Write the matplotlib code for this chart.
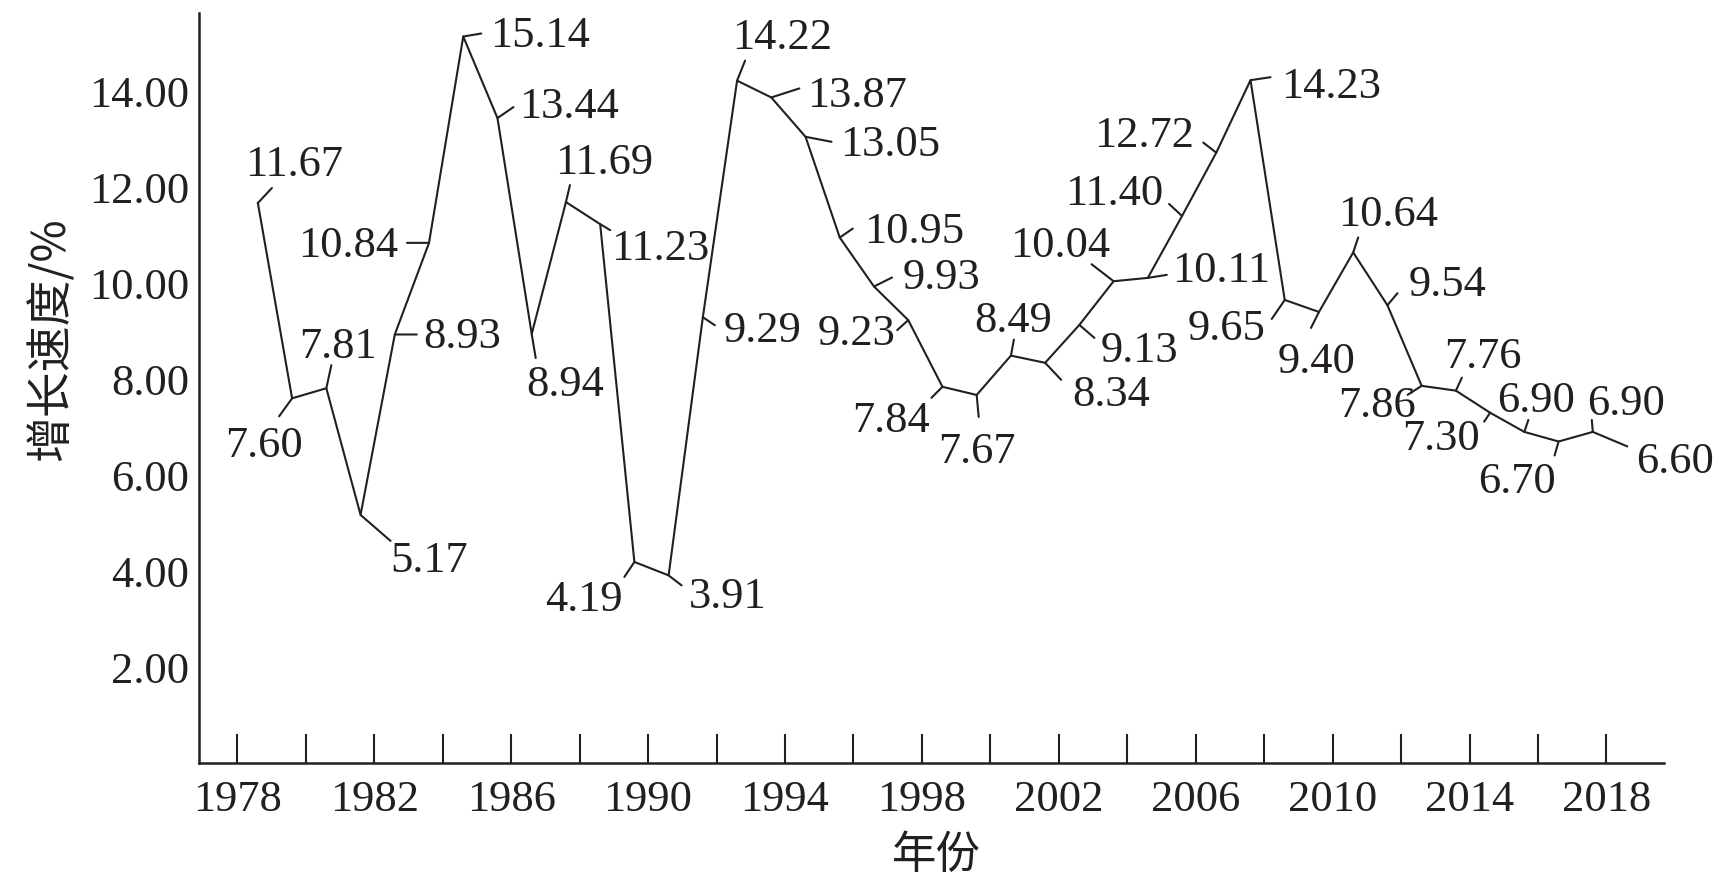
import matplotlib.pyplot as plt
import numpy as np

plt.rcParams['font.family'] = ['Liberation Serif', 'Noto Sans CJK SC']

INK = '#231f20'

# data
years = list(range(1978, 2019))
growth = [11.67, 7.60, 7.81, 5.17, 8.93, 10.84, 15.14, 13.44, 8.94, 11.69,
          11.23, 4.19, 3.91, 9.29, 14.22, 13.87, 13.05, 10.95, 9.93, 9.23,
          7.84, 7.67, 8.49, 8.34, 9.13, 10.04, 10.11, 11.40, 12.72, 14.23,
          9.65, 9.40, 10.64, 9.54, 7.86, 7.76, 7.30, 6.90, 6.70, 6.90, 6.60]
x_tick_years = list(range(1978, 2019, 4))
x_minor_years = list(range(1980, 2017, 4))
y_ticks = [2, 4, 6, 8, 10, 12, 14]

# label placement, pixel offsets from the point (dx, dy with y pointing down)
# leader line end
leader_end = [(14, -15), (-13, 18), (5, -23), (30, 26), (22, 0), (-22, 0),
              (18, -3), (16, -11), (4, 24), (4, -17), (10, 6), (-10, 15),
              (13, 10), (12, 8), (8, -20), (28, -9), (26, 5), (13, -9),
              (18, -9), (-11, 10), (-11, 11), (2, 22), (3, -16), (16, 17),
              (15, 13), (-22, -17), (19, -3), (-13, -12), (-13, -10),
              (20, -3), (-13, 19), (-8, 16), (5, -15), (10, -12), (-14, 9),
              (6, -13), (-6, 9), (4, -12), (-4, 14), (-1, -12), (0, 0)]
# text centre x / baseline y
text_pos = [(36, -27), (-28, 59), (12, -30), (69, 57), (67, 14), (-81, 14),
            (77, 10), (72, 0), (33, 62), (38, -28), (60, 36), (-50, 49),
            (59, 33), (60, 25), (45, -32), (86, 10), (85, 19), (74, 5),
            (68, 2), (-52, 25), (-51, 45), (0, 68), (2, -24), (66, 43),
            (60, 37), (-53, -24), (73, 4), (-68, -11), (-72, -6),
            (81, 18), (-58, 40), (-2, 61), (35, -26), (60, -9), (-45, 31),
            (27, -23), (-49, 37), (12, -20), (-42, 51), (33, -17), (48, 27)]

fig = plt.figure(figsize=(17.16, 8.86), dpi=100)
ax = fig.add_axes([199 / 1716, 1 - 763 / 886, 1465 / 1716, 750 / 886])

x = np.array(years) + 0.6
ax.plot(x, growth, color=INK, lw=1.5)

for xi, yi, v, (lx, ly), (tx, ty) in zip(x, growth, growth, leader_end, text_pos):
    if (lx, ly) != (0, 0):
        ax.annotate('', xy=(xi, yi), xytext=(lx, -ly), textcoords='offset pixels',
                    arrowprops=dict(arrowstyle='-', color=INK, lw=1.5,
                                    shrinkA=0, shrinkB=0))
    ax.annotate(f'{v:.2f}', xy=(xi, yi), xytext=(tx, -ty), textcoords='offset pixels',
                ha='center', va='baseline', fontsize=32, color=INK)

ax.set_xlim(1976.88, 2019.68)
ax.set_ylim(0, 15.63)
ax.set_xticks(x_tick_years)
ax.set_xticks(x_minor_years, minor=True)
ax.set_yticks(y_ticks)
ax.set_yticklabels([f'{t:.2f}' for t in y_ticks])
ax.tick_params(axis='x', which='both', direction='in', length=21, width=1.5,
               colors=INK, labelsize=32, pad=12)
ax.tick_params(axis='y', length=0, labelsize=32, pad=7, colors=INK)

for side in ['top', 'right']:
    ax.spines[side].set_visible(False)
for side in ['left', 'bottom']:
    ax.spines[side].set_linewidth(1.8)
    ax.spines[side].set_color(INK)

ax.set_xlabel('年份', fontsize=32, color=INK, family=['Noto Sans CJK SC'])
ax.xaxis.set_label_coords(0.503, -0.122)
ax.xaxis.label.set_va('center')
ax.set_ylabel('增长速度/%', fontsize=33, color=INK, family=['Noto Sans CJK SC'])
ax.yaxis.set_label_coords(-0.101, 0.565)
ax.yaxis.label.set_va('center')

fig.savefig('out.png', dpi=100)
